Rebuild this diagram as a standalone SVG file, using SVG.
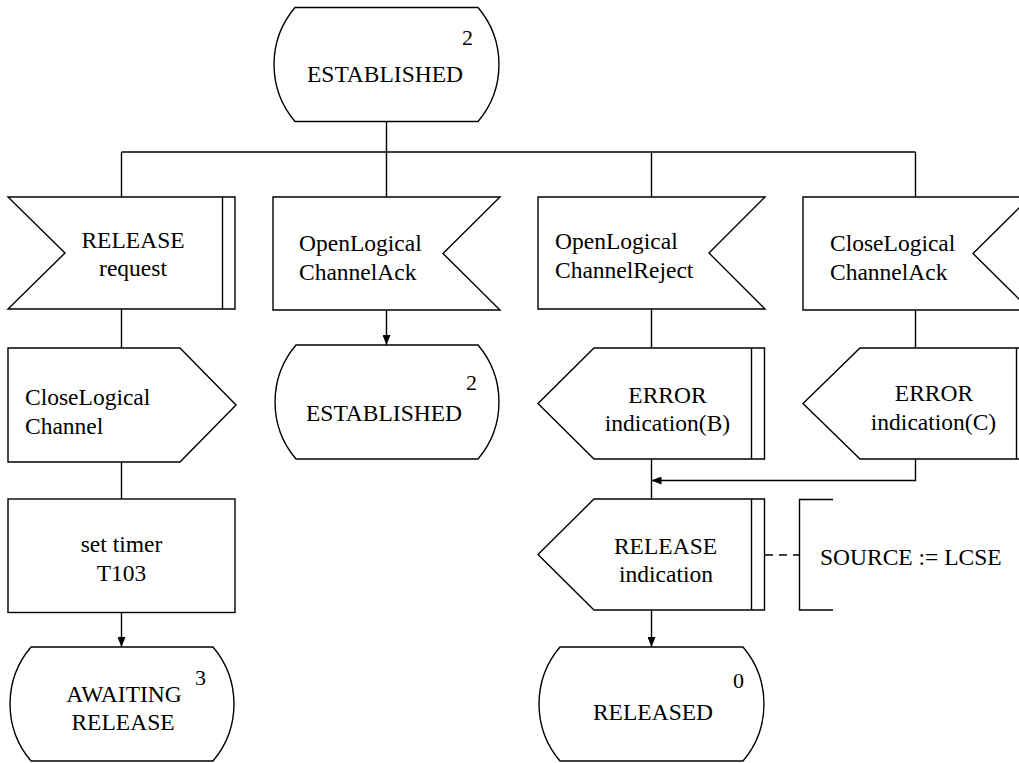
<svg xmlns="http://www.w3.org/2000/svg" width="1019" height="763" viewBox="0 0 1019 763" font-family="'Liberation Serif', 'Times New Roman', 'DejaVu Serif', serif">
<defs>
<style>
.s{fill:#fff;stroke:#000;stroke-width:1.4;stroke-linejoin:miter}
.l{fill:none;stroke:#000;stroke-width:1.4}
.d{fill:none;stroke:#000;stroke-width:1.4;stroke-dasharray:8,6}
.t{font-family:'Liberation Serif','Times New Roman','DejaVu Serif',serif;font-size:23.5px;fill:#000}
.c{text-anchor:middle}
.n{font-size:22px}
</style>
<marker id="ah" viewBox="0 0 10 8" refX="10" refY="4" markerWidth="10" markerHeight="8" markerUnits="userSpaceOnUse" orient="auto">
<path d="M0,0 L10,4 L0,8 Z" fill="#000"/>
</marker>
</defs>
<rect width="1019" height="763" fill="#fff"/>

<g id="connectors">
<path class="l" d="M386.5,121 V152 M121.5,152 H915.5 M121.5,152 V197 M386.5,152 V197 M651.5,152 V197 M915.5,152 V197"/>
<path class="l" d="M121.5,309 V348 M121.5,462 V499"/>
<path class="l" d="M121.5,613 V647" marker-end="url(#ah)"/>
<path class="l" d="M386.5,310 V345" marker-end="url(#ah)"/>
<path class="l" d="M651.5,309 V348 M651.5,459 V499"/>
<path class="l" d="M651.5,610 V647" marker-end="url(#ah)"/>
<path class="l" d="M915.5,310 V348"/>
<path class="l" d="M915.5,459 V480.5 H651.5" marker-end="url(#ah)"/>
<path class="d" d="M765,555 H799"/>
</g>

<g id="state_established_top" class="t">
<path class="s" d="M295,7.5 H478 A88,88 0 0 1 478,121.5 H295 A88,88 0 0 1 295,7.5 Z"/>
<text x="462" y="45" class="n">2</text>
<text x="385" y="82" class="c">ESTABLISHED</text>
</g>

<g id="input_release_request" class="t">
<path class="s" d="M8,197 H235 V309 H8 L65,253 Z"/>
<path class="l" d="M222.5,197 V309"/>
<text x="133" y="248" class="c">RELEASE</text>
<text x="133" y="276" class="c">request</text>
</g>

<g id="input_olc_ack" class="t">
<path class="s" d="M273,197 H500 L443,253.5 L500,310 H273 Z"/>
<text x="299" y="251">OpenLogical</text>
<text x="299" y="280">ChannelAck</text>
</g>

<g id="input_olc_reject" class="t">
<path class="s" d="M538,197 H765 L709,253 L765,309 H538 Z"/>
<text x="555" y="249">OpenLogical</text>
<text x="555" y="278">ChannelReject</text>
</g>

<g id="input_clc_ack" class="t">
<path class="s" d="M803,197 H1030 L973,253.5 L1030,310 H803 Z"/>
<text x="830" y="251">CloseLogical</text>
<text x="830" y="280">ChannelAck</text>
</g>

<g id="output_close_lc" class="t">
<path class="s" d="M8,348 H180 L236,405 L180,462 H8 Z"/>
<text x="25" y="405">CloseLogical</text>
<text x="25" y="434">Channel</text>
</g>

<g id="state_established_2" class="t">
<path class="s" d="M296,345 H478 A88,88 0 0 1 478,459 H296 A88,88 0 0 1 296,345 Z"/>
<text x="466" y="390" class="n">2</text>
<text x="384" y="421" class="c">ESTABLISHED</text>
</g>

<g id="output_error_b" class="t">
<path class="s" d="M594,348 H764.5 V459 H594 L538,403.5 Z"/>
<path class="l" d="M751.5,348 V459"/>
<text x="667.5" y="403" class="c">ERROR</text>
<text x="667.5" y="431" class="c">indication(B)</text>
</g>

<g id="output_error_c" class="t">
<path class="s" d="M860,348 H1029 V459 H860 L803,403.5 Z"/>
<path class="l" d="M1016.5,348 V459"/>
<text x="934" y="401" class="c">ERROR</text>
<text x="933.5" y="430" class="c">indication(C)</text>
</g>

<g id="task_set_timer" class="t">
<rect class="s" x="8" y="499" width="227" height="113.5"/>
<text x="121.5" y="552" class="c">set timer</text>
<text x="121.5" y="581" class="c">T103</text>
</g>

<g id="output_release_ind" class="t">
<path class="s" d="M594,499 H764.5 V610 H594 L538,554.5 Z"/>
<path class="l" d="M751.5,499 V610"/>
<text x="665.5" y="554" class="c">RELEASE</text>
<text x="666" y="582" class="c">indication</text>
</g>

<g id="comment_source" class="t">
<path class="l" d="M833,499.5 H799.5 V610 H833"/>
<text x="820" y="565">SOURCE := LCSE</text>
</g>

<g id="state_awaiting_release" class="t">
<path class="s" d="M31,647 H213 A88,88 0 0 1 213,761 H31 A88,88 0 0 1 31,647 Z"/>
<text x="195" y="685" class="n">3</text>
<text x="124" y="702" class="c">AWAITING</text>
<text x="123" y="730" class="c">RELEASE</text>
</g>

<g id="state_released" class="t">
<path class="s" d="M560,647 H743 A88,88 0 0 1 743,761 H560 A88,88 0 0 1 560,647 Z"/>
<text x="733" y="688" class="n">0</text>
<text x="653" y="720" class="c">RELEASED</text>
</g>
</svg>
